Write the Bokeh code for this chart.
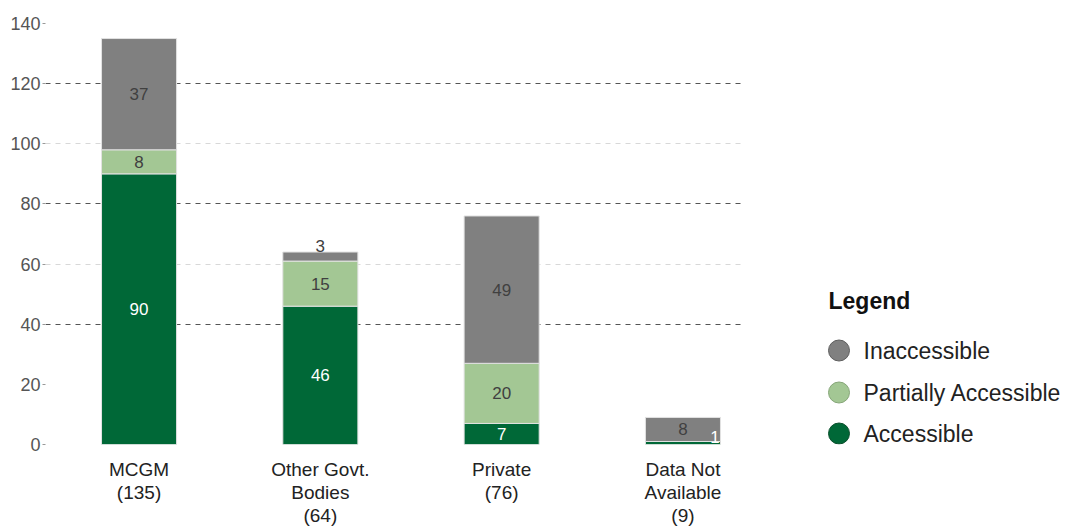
from bokeh.plotting import figure
from bokeh.models import Range1d, FixedTicker, Grid, ColumnDataSource
from bokeh.layouts import row
from bokeh.embed import file_html
from bokeh.resources import INLINE
from bokeh.core.properties import value

# ---- data ----
categories = ["MCGM", "Other Govt.\nBodies", "Private", "Data Not\nAvailable"]
accessible = [90, 46, 7, 1]
partially_accessible = [8, 15, 20, 0]
inaccessible = [37, 3, 49, 8]
series_names = ["Accessible", "Partially Accessible", "Inaccessible"]
legend_order = ["Inaccessible", "Partially Accessible", "Accessible"]
y_ticks = [0, 20, 40, 60, 80, 100, 120, 140]

# ---- styles ----
FONT = "Liberation Sans"
fill_colors = {"Accessible": "#006837", "Partially Accessible": "#a3c794", "Inaccessible": "#808080"}
edge_colors = {"Accessible": "#0a4f2c", "Partially Accessible": "#86a678", "Inaccessible": "#5e5e5e"}
text_colors = {"Accessible": "white", "Partially Accessible": "#404040", "Inaccessible": "#404040"}
# pixel nudges for labels of very thin segments
label_nudge = {("Inaccessible", 1): (0, -11), ("Accessible", 3): (32, -6)}

series_values = {"Accessible": accessible, "Partially Accessible": partially_accessible,
                 "Inaccessible": inaccessible}
xs = list(range(len(categories)))
totals = [a + b + c for a, b, c in zip(accessible, partially_accessible, inaccessible)]

H = 529
TOP, BOTTOM = 23, 85
p = figure(width=760, height=H, x_range=Range1d(-0.516, 3.345), y_range=Range1d(0, 140),
           output_backend="svg", toolbar_location=None,
           min_border_left=45, min_border_right=15, min_border_top=TOP, min_border_bottom=BOTTOM)
p.outline_line_color = None
p.background_fill_color = "white"
p.border_fill_color = "white"

# grid
p.xgrid.visible = False
p.ygrid.ticker = FixedTicker(ticks=[40, 80, 120, 140])
p.ygrid.grid_line_color = "#555555"
p.ygrid.grid_line_dash = "5 5"
p.ygrid.grid_line_width = 1
light_grid = Grid(dimension=1, ticker=FixedTicker(ticks=[0, 60, 100]),
                  grid_line_color="#d8d8d8", grid_line_dash="5 5", grid_line_width=1)
p.add_layout(light_grid)

# axes
p.yaxis.ticker = FixedTicker(ticks=y_ticks)
p.yaxis.axis_line_color = None
p.yaxis.major_tick_in = 0
p.yaxis.major_tick_out = 3
p.yaxis.major_tick_line_color = "#999999"
p.yaxis.minor_tick_line_color = None
p.yaxis.major_label_standoff = 2
p.yaxis.major_label_text_font = FONT
p.yaxis.major_label_text_font_size = "18px"
p.yaxis.major_label_text_color = "#555555"

p.xaxis.ticker = FixedTicker(ticks=xs)
p.xaxis.major_label_overrides = {i: f"{c}\n({t})" for i, c, t in zip(xs, categories, totals)}
p.xaxis.axis_line_color = None
p.xaxis.major_tick_line_color = None
p.xaxis.minor_tick_line_color = None
p.xaxis.major_tick_in = 0
p.xaxis.major_tick_out = 0
p.xaxis.major_label_standoff = 14
p.xaxis.major_label_text_font = FONT
p.xaxis.major_label_text_font_size = "19px"
p.xaxis.major_label_text_line_height = 1.1
p.xaxis.major_label_text_color = "#222222"

# stacked bars (all bars first, then all value labels on top)
bottom = [0] * len(xs)
label_sources = []
for name in series_names:
    vals = series_values[name]
    top = [b + v for b, v in zip(bottom, vals)]
    src = ColumnDataSource(dict(x=xs, bottom=bottom, top=top))
    p.vbar(x="x", bottom="bottom", top="top", width=0.414, source=src,
           fill_color=fill_colors[name], line_color="#e2e2e2", line_width=1)
    lx, ly, lt, dx, dy = [], [], [], [], []
    for i, (b, v) in enumerate(zip(bottom, vals)):
        if v <= 0:
            continue
        lx.append(i)
        ly.append(b + v / 2)
        lt.append(str(v))
        ox, oy = label_nudge.get((name, i), (0, 0))
        dx.append(ox)
        dy.append(oy)
    label_sources.append((name, ColumnDataSource(dict(x=lx, y=ly, text=lt, dx=dx, dy=dy))))
    bottom = top

for name, lsrc in label_sources:
    p.text(x="x", y="y", text="text", x_offset="dx", y_offset="dy", source=lsrc,
           text_align="center", text_baseline="middle", text_font=value(FONT),
           text_font_size="17px", text_color=text_colors[name])

# legend panel: a pixel-scaled figure to the right of the chart (same frame rows)
LW = 306
FH = H - TOP - BOTTOM
lf = figure(width=LW, height=H, x_range=Range1d(0, LW), y_range=Range1d(0, FH),
            x_axis_type=None, y_axis_type=None, output_backend="svg", toolbar_location=None,
            min_border_left=0, min_border_right=0, min_border_top=TOP, min_border_bottom=BOTTOM)
lf.outline_line_color = None
lf.xgrid.visible = False
lf.ygrid.visible = False

base = H - BOTTOM  # screen row of the frame bottom
legend_title_pos = (68, base - 300)
legend_marker_x, legend_text_x = 78.5, 103
legend_row_y = [base - 350, base - 392, base - 433]

lf.text(x=[legend_title_pos[0]], y=[legend_title_pos[1]], text=["Legend"],
        text_align="left", text_baseline="middle", text_font=value(FONT),
        text_font_size="23px", text_font_style="bold", text_color="#111111")
lf.scatter(x=[legend_marker_x] * len(legend_order), y=legend_row_y, marker="circle", size=21,
           fill_color=[fill_colors[n] for n in legend_order],
           line_color=[edge_colors[n] for n in legend_order], line_width=1)
lf.text(x=[legend_text_x] * len(legend_order), y=legend_row_y, text=legend_order,
        text_align="left", text_baseline="middle", text_font=value(FONT),
        text_font_size="23px", text_color="#222222")

layout = row(p, lf)
open("out.html", "w").write(file_html(layout, INLINE))
